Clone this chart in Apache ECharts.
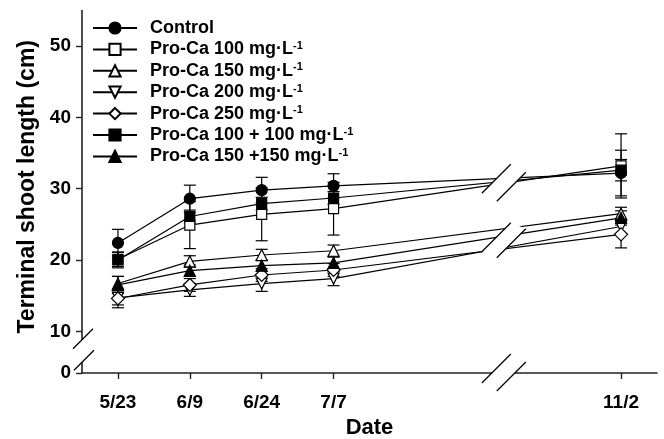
<!DOCTYPE html>
<html>
<head>
<meta charset="utf-8">
<script src="https://cdn.jsdelivr.net/npm/echarts@6/dist/echarts.min.js"></script>
<style>html,body{margin:0;background:#fff}#main{width:664px;height:439px}</style>
</head>
<body>
<div id="main"></div>
<script>
// sampling dates and where they sit on the (broken) x axis
var dates = ['5/23', '6/9', '6/24', '7/7', '11/2'];
var slots = [0, 1, 2, 3, 7];

// mean terminal shoot length (cm) and SD
var control = [22.4, 28.6, 29.8, 30.4, 32.2];
var controlSd = [1.9, 1.9, 1.8, 1.7, 3.2];
var pc100 = [20.1, 24.9, 26.4, 27.2, 33.2];
var pc100Sd = [1.0, 3.3, 3.7, 3.7, 4.5];
var pc150 = [16.7, 19.8, 20.7, 21.3, 26.5];
var pc150Sd = [1.0, 0.8, 0.8, 0.8, 0.9];
var pc200 = [14.7, 15.8, 16.7, 17.4, 24.7];
var pc200Sd = [1.0, 0.9, 1.1, 1.0, 1.0];
var pc250 = [14.6, 16.5, 17.9, 18.6, 23.6];
var pc250Sd = [1.3, 0.9, 0.9, 0.9, 1.9];
var pc100x2 = [20.0, 26.1, 27.9, 28.7, 32.6];
var pc100x2Sd = [1.1, 0.9, 0.9, 0.9, 1.5];
var pc150x2 = [16.5, 18.5, 19.2, 19.6, 25.9];
var pc150x2Sd = [1.2, 0.8, 0.8, 0.8, 1.0];

var yTicks = [4.15, 10, 20, 30, 40, 50];

var groups = [
  {name: 'Control', label: 'Control', v: control, sd: controlSd, symbol: 'circle', size: 11, fill: '#000'},
  {name: 'p100', label: 'Pro-Ca 100 mg\u00b7L', v: pc100, sd: pc100Sd, symbol: 'rect', size: 10, fill: '#fff'},
  {name: 'p150', label: 'Pro-Ca 150 mg\u00b7L', v: pc150, sd: pc150Sd, symbol: 'triangle', size: 11, fill: '#fff'},
  {name: 'p200', label: 'Pro-Ca 200 mg\u00b7L', v: pc200, sd: pc200Sd, symbol: 'triangle', size: 11, fill: '#fff', rot: 180},
  {name: 'p250', label: 'Pro-Ca 250 mg\u00b7L', v: pc250, sd: pc250Sd, symbol: 'diamond', size: 13, fill: '#fff'},
  {name: 'p100x2', label: 'Pro-Ca 100 + 100 mg\u00b7L', v: pc100x2, sd: pc100x2Sd, symbol: 'rect', size: 10, fill: '#000'},
  {name: 'p150x2', label: 'Pro-Ca 150 +150 mg\u00b7L', v: pc150x2, sd: pc150x2Sd, symbol: 'triangle', size: 11, fill: '#000'}
];

function errBar(params, api) {
  var x = api.value(0), m = api.value(1), s = api.value(2);
  var t = api.coord([x, m + s]), b = api.coord([x, m - s]);
  var w = 6, st = {stroke: '#000', lineWidth: 1.2};
  return {type: 'group', children: [
    {type: 'line', shape: {x1: t[0], y1: t[1], x2: b[0], y2: b[1]}, style: st},
    {type: 'line', shape: {x1: t[0] - w, y1: t[1], x2: t[0] + w, y2: t[1]}, style: st},
    {type: 'line', shape: {x1: b[0] - w, y1: b[1], x2: b[0] + w, y2: b[1]}, style: st}
  ]};
}

var series = [];
groups.forEach(function (g) {
  series.push({
    type: 'custom', renderItem: errBar, z: 1, silent: true,
    encode: {x: 0, y: 1},
    data: slots.map(function (s, i) { return [s, g.v[i], g.sd[i]]; })
  });
});
groups.forEach(function (g) {
  series.push({
    name: g.name, type: 'line', z: 3,
    symbol: g.symbol, symbolSize: g.size, symbolRotate: g.rot || 0,
    lineStyle: {color: '#000', width: 1.2},
    itemStyle: {color: g.fill, borderColor: '#000', borderWidth: 1.2, opacity: 1},
    data: slots.map(function (s, i) { return [s, g.v[i]]; })
  });
});

var labelOf = {};
groups.forEach(function (g) { labelOf[g.name] = g; });

var chart = echarts.init(document.getElementById('main'));
var font = '"Liberation Sans", Arial, sans-serif';
var option = {
  animation: false,
  textStyle: {fontFamily: font},
  grid: {left: 82, right: 7, top: 10.5, bottom: 66, containLabel: false, outerBoundsMode: 'none'},
  legend: {
    orient: 'vertical', left: 87, top: 14,
    itemWidth: 44, itemHeight: 14, itemGap: 3.4,
    data: groups.map(function (g) { return g.name; }),
    formatter: function (n) {
      var g = labelOf[n];
      return g.name === 'Control' ? '{a|' + g.label + '}' : '{a|' + g.label + '}{s|-1}';
    },
    textStyle: {
      padding: [0, 0, 0, 8],
      rich: {
        a: {fontFamily: font, fontWeight: 'bold', fontSize: 18, lineHeight: 18, color: '#000'},
        s: {fontFamily: font, fontWeight: 'bold', fontSize: 11, lineHeight: 18, verticalAlign: 'top', color: '#000'}
      }
    }
  },
  xAxis: {
    type: 'value', min: -0.5, max: 7.5,
    name: 'Date', nameLocation: 'middle', nameGap: 44,
    nameTextStyle: {fontFamily: font, fontWeight: 'bold', fontSize: 22, color: '#000'},
    axisLine: {onZero: false, lineStyle: {color: '#222', width: 1.6}},
    axisTick: {customValues: slots, length: 6, lineStyle: {color: '#222', width: 1.4}},
    axisLabel: {
      customValues: slots, margin: 20,
      fontFamily: font, fontWeight: 'bold', fontSize: 19, color: '#000',
      formatter: function (v) { return dates[slots.indexOf(v)]; }
    },
    splitLine: {show: false}
  },
  yAxis: {
    type: 'value', min: 4.15, max: 55,
    name: 'Terminal shoot length (cm)', nameLocation: 'middle', nameGap: 40,
    nameTextStyle: {fontFamily: font, fontWeight: 'bold', fontSize: 23, color: '#000', padding: [0, 0, 0, 10]},
    axisLine: {show: true, onZero: false, lineStyle: {color: '#222', width: 1.6}},
    axisTick: {show: true, customValues: yTicks, length: 6, lineStyle: {color: '#222', width: 1.4}},
    axisLabel: {
      customValues: yTicks, margin: 11,
      fontFamily: font, fontWeight: 'bold', fontSize: 19, color: '#000',
      formatter: function (v) { return v < 5 ? '0' : String(v); }
    },
    splitLine: {show: false}
  },
  series: series
};
chart.setOption(option);

// axis breaks: white out a parallelogram between two slashes
function brk(c1x, c1y, c2x, c2y, h) {
  var p = [[c1x - h, c1y + h], [c1x + h, c1y - h], [c2x + h, c2y - h], [c2x - h, c2y + h]];
  var st = {stroke: '#000', lineWidth: 1.3};
  return [
    {type: 'polygon', z: 100, shape: {points: p}, style: {fill: '#fff', stroke: null}},
    {type: 'line', z: 101, shape: {x1: p[0][0], y1: p[0][1], x2: p[1][0], y2: p[1][1]}, style: st},
    {type: 'line', z: 101, shape: {x1: p[3][0], y1: p[3][1], x2: p[2][0], y2: p[2][1]}, style: st}
  ];
}
var toPx = function (x, y) { return chart.convertToPixel({gridIndex: 0}, [x, y]); };
var gx = toPx(5, 10)[0] + 19;
var upper = toPx(5, 31.4)[1];
var lower = toPx(5, 23.2)[1];
var base = toPx(5, 4.15)[1];
var ax = toPx(-0.5, 10);
var gfx = []
  .concat(brk(gx, upper, gx + 15, upper + 8, 14.5))
  .concat(brk(gx, lower, gx + 15, lower + 6, 14.5))
  .concat(brk(gx, base - 4.5, gx + 15, base + 3.5, 14.5))
  .concat(brk(ax[0] + 1, ax[1] + 7.5, ax[0] + 2, ax[1] + 29, 10));
chart.setOption({graphic: gfx});
</script>
</body>
</html>
